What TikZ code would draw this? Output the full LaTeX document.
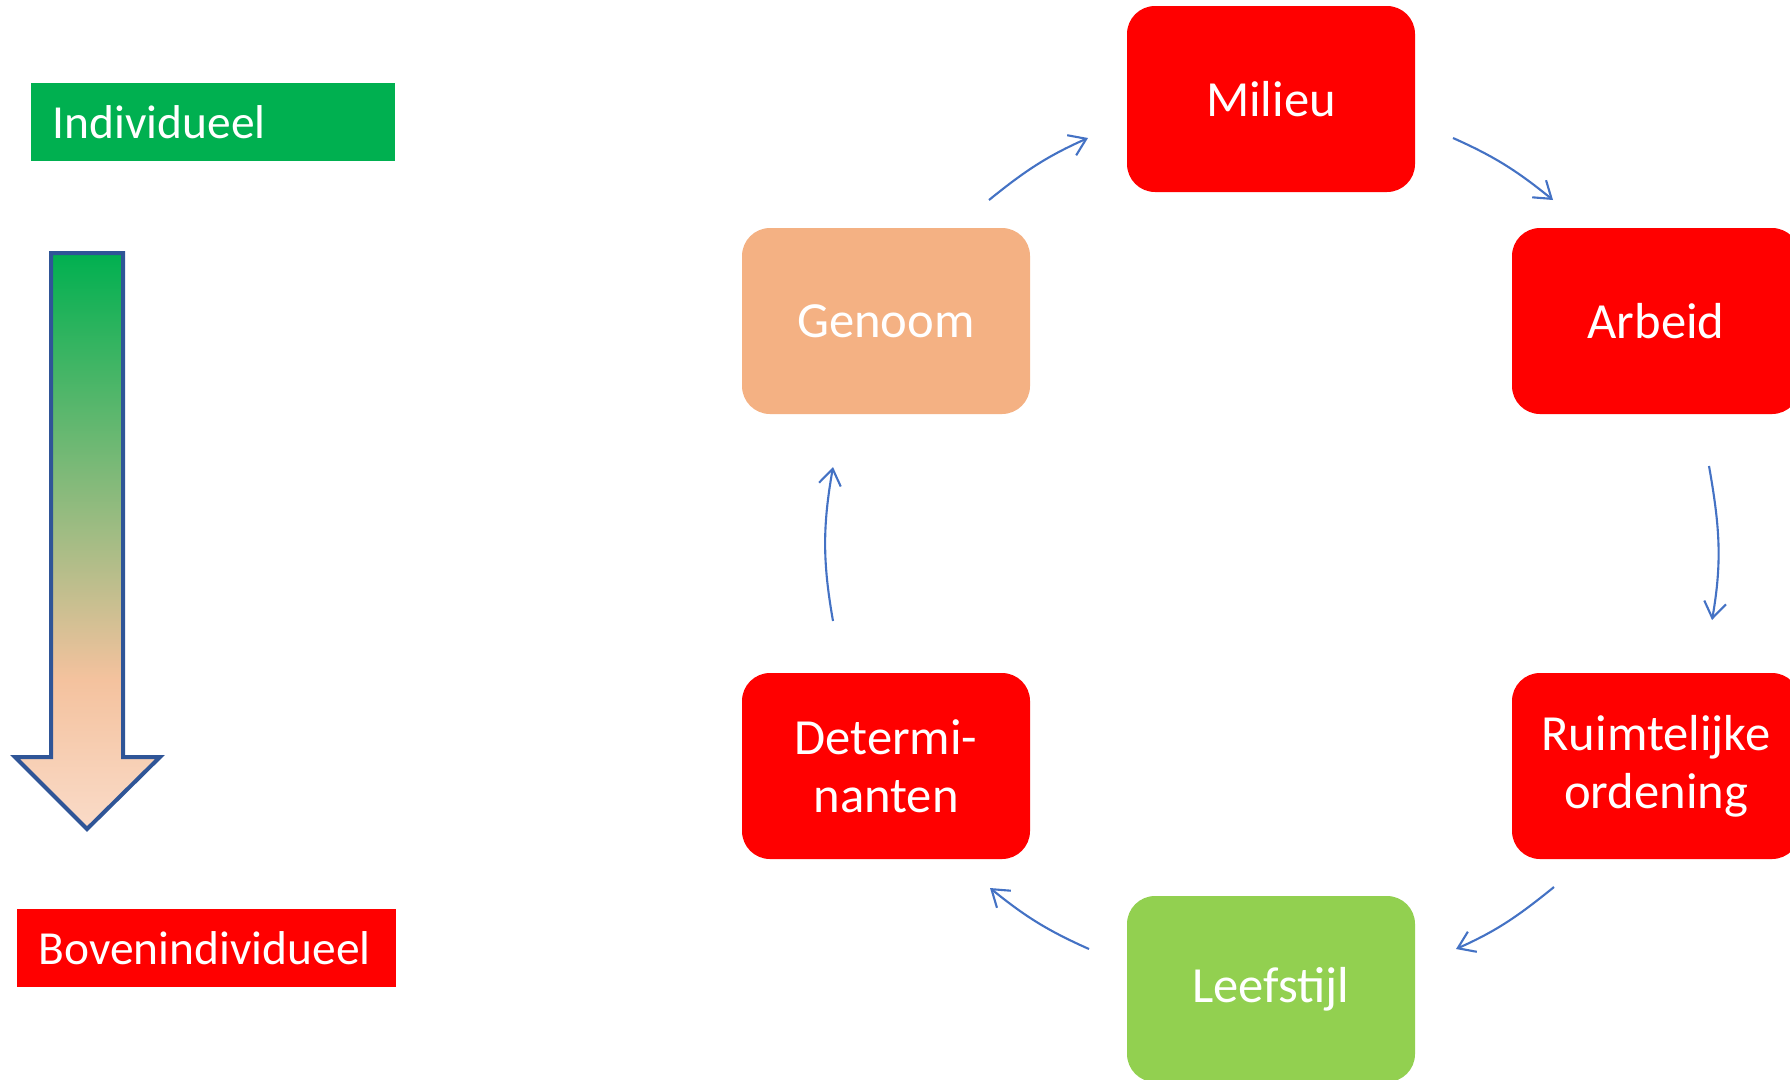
\documentclass[tikz,border=0pt]{standalone}
\usepackage{fontspec}
\setmainfont{Carlito}
\usetikzlibrary{arrows.meta}
\definecolor{kred}{HTML}{FF0000}
\definecolor{kgreen}{HTML}{00B050}
\definecolor{klime}{HTML}{92D050}
\definecolor{kpeach}{HTML}{F4B183}
\definecolor{kblue}{HTML}{4472C4}
\definecolor{kdark}{HTML}{2F5597}
\definecolor{kfadeA}{HTML}{F4C29E}
\definecolor{kfadeB}{HTML}{FADBC8}
\pgfdeclareverticalshading{levelfade}{100bp}{color(0bp)=(kfadeB); color(25bp)=(kfadeB);
  color(38bp)=(kfadeA); color(75bp)=(kgreen); color(100bp)=(kgreen)}
\begin{document}
\begin{tikzpicture}[
  factor/.style={rectangle, rounded corners=0.28cm, minimum width=2.88cm, minimum height=1.86cm,
    inner sep=0pt, align=center, text=white, font=\fontsize{14.4pt}{16.5pt}\selectfont},
  level/.style={rectangle, minimum height=0.78cm, inner xsep=0.22cm, anchor=west,
    text=white, font=\fontsize{13.5pt}{16pt}\selectfont},
  link/.style={-{Straight Barb[length=1.6mm,width=2.2mm]}, kblue, line width=0.6pt}
]
\useasboundingbox (0,0) rectangle (17.9,-10.79);
\clip (0,0) rectangle (17.9,-10.79);

\node[level, fill=kgreen, minimum width=3.64cm, text width=3.2cm] (indiv) at (0.30,-1.22) {Individueel};
\node[level, fill=kred, minimum width=3.79cm, text width=3.35cm] (boven) at (0.16,-9.48) {Bovenindividueel};

\shade[shading=levelfade, draw=kdark, line width=0.4mm]
  (0.51,-2.53) -- (1.23,-2.53) -- (1.23,-7.57) -- (1.60,-7.57) -- (0.87,-8.29)
  -- (0.15,-7.57) -- (0.51,-7.57) -- cycle;

\node[factor, fill=kred] (mil) at (12.71,-0.99) {Milieu};
\node[factor, fill=kred] (arb) at (16.56,-3.21) {Arbeid};
\node[factor, fill=kred] (rui) at (16.56,-7.66) {Ruimtelijke\\ordening};
\node[factor, fill=klime] (lee) at (12.71,-9.89) {Leefstijl};
\node[factor, fill=kred] (det) at (8.86,-7.66) {Determi-\\nanten};
\node[factor, fill=kpeach] (gen) at (8.86,-3.21) {Genoom};

\draw[link] ([shift={(1.03,1.21)}]gen.center) to[out=39, in=204] ([shift={(-1.83,-0.39)}]mil.center);
\draw[link] ([shift={(1.82,-0.39)}]mil.center) to[out=-24, in=141] ([shift={(-1.03,1.21)}]arb.center);
\draw[link] ([shift={(0.53,-1.45)}]arb.center) to[out=-80, in=80] ([shift={(0.56,1.46)}]rui.center);
\draw[link] ([shift={(-1.02,-1.21)}]rui.center) to[out=-141, in=24] ([shift={(1.85,0.40)}]lee.center);
\draw[link] ([shift={(-1.82,0.40)}]lee.center) to[out=156, in=-39] ([shift={(1.04,-1.22)}]det.center);
\draw[link] ([shift={(-0.53,1.45)}]det.center) to[out=100, in=-100] ([shift={(-0.53,-1.46)}]gen.center);

\end{tikzpicture}
\end{document}
